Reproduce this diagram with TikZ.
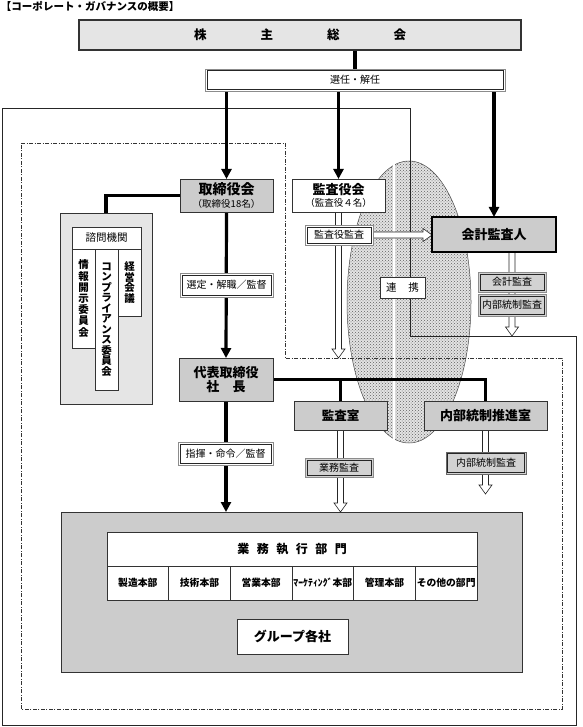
\documentclass[tikz,border=0pt]{standalone}
\usepackage{fontspec}
\setmainfont{Noto Sans CJK JP}
\usetikzlibrary{arrows.meta,patterns,calc}
\pgfdeclarelayer{lzero}\pgfdeclarelayer{lone}\pgfdeclarelayer{ltwo}
\pgfsetlayers{lzero,lone,ltwo,main}
\newcommand\fsz[1]{\fontsize{#1}{#1}\selectfont}
\newcommand\hollowV[2]{\filldraw[hollow] ($(#1)+(-3,0)$) -- ($(#2)+(-3,-9)$) -- ($(#2)+(-6.5,-9)$) -- (#2) -- ($(#2)+(6.5,-9)$) -- ($(#2)+(3,-9)$) -- ($(#1)+(3,0)$);}
\newcommand\hollowH[2]{\filldraw[hollow] ($(#1)+(0,-3)$) -- ($(#2)+(-9,-3)$) -- ($(#2)+(-9,-6.5)$) -- (#2) -- ($(#2)+(-9,6.5)$) -- ($(#2)+(-9,3)$) -- ($(#1)+(0,3)$);}
\begin{document}
\begin{tikzpicture}[x=1pt,y=-1pt,
  every node/.style={inner sep=0pt,outer sep=0pt,align=center},
  box/.style={draw=black!80,line width=0.8pt,anchor=north west},
  innerw/.store in=\innerlw, innerw=0.6pt,
  dlab/.style={draw=black!45,line width=0.7pt,fill=white,anchor=north west,font=\fsz{10},
    path picture={\draw[black!85,line width=\innerlw] ([shift={(1.8,1.8)}]path picture bounding box.north west) rectangle ([shift={(-1.8,-1.8)}]path picture bounding box.south east);}},
  glab/.style={dlab,fill=gray!35},
  thickln/.style={line width=3.2pt},
  thickar/.style={line width=3.2pt,-{Triangle[length=10pt,width=10pt]}},
  hollow/.style={draw=black!85,line width=0.6pt,fill=white},
]
\useasboundingbox (0,0) rectangle (582,727);

% ---------- nodes ----------
\node[font=\bfseries\fsz{10.5},anchor=west] (title) at (1,6.5) {【コーポレート・ガバナンスの概要】};

\node[box,fill=gray!20,line width=1.2pt,minimum width=442pt,minimum height=30pt,font=\bfseries\fsz{12.5}] (soukai) at (79,20) {株\hspace{54pt}主\hspace{54pt}総\hspace{54pt}会};

\node[dlab,minimum width=300pt,minimum height=22pt] (senin) at (205,69) {選任・解任};

\node[box,fill=gray!40,minimum width=93pt,minimum height=33pt,font=\fontsize{12}{13}\selectfont] (tori) at (180,179) {{\bfseries\fsz{14}取締役会}\\{\fsz{9.5}（取締役18名）}};

\node[box,fill=white,minimum width=93pt,minimum height=33pt,font=\fontsize{12}{12.5}\selectfont] (kansayaku) at (292,179) {{\bfseries\fsz{13}監査役会}\\{\fsz{9.5}（監査役４名）}};

\node[box,fill=gray!40,draw=black,line width=2.2pt,minimum width=124pt,minimum height=35pt,font=\bfseries\fsz{13}] (kaikei) at (432,217) {会計監査人};

\node[dlab,minimum width=68pt,minimum height=20pt] (kyk) at (305,225) {監査役監査};

\node[box,fill=white,minimum width=45pt,minimum height=21pt,font=\fsz{10.5}] (renkei) at (380,277) {連\hspace{12pt}携};

\node[glab,minimum width=68pt,minimum height=20pt] (kk1) at (478,272) {会計監査};
\node[glab,minimum width=68pt,minimum height=22pt] (kk2) at (478,294) {内部統制監査};

\node[box,fill=gray!20,minimum width=92pt,minimum height=191pt] (shimon) at (60,213) {};
\node[box,fill=white,minimum width=69pt,minimum height=22pt,font=\fsz{10.5}] (shimonh) at (72,227) {諮問機関};
\node[box,fill=white,minimum width=23pt,minimum height=99pt,font=\bfseries\fontsize{10.5}{11.2}\selectfont] (va) at (72,249) {情\\報\\開\\示\\委\\員\\会};
\node[box,fill=white,minimum width=23pt,minimum height=141pt,font=\bfseries\fontsize{10.5}{10.5}\selectfont] (vb) at (95,249) {コ\\ン\\プ\\ラ\\イ\\ア\\ン\\ス\\委\\員\\会};
\node[box,fill=white,minimum width=23pt,minimum height=67pt,font=\bfseries\fontsize{10.5}{10.8}\selectfont] (vc) at (118,249) {経\\営\\会\\議};

\node[dlab,minimum width=93pt,minimum height=24pt] (sentei) at (180,273) {選定・解職／監督};

\node[box,fill=gray!40,minimum width=94pt,minimum height=43pt,font=\bfseries\fontsize{13}{14}\selectfont] (daihyo) at (179,358) {代表取締役\\社\hspace{13.5pt}長};

\node[box,fill=gray!40,minimum width=93pt,minimum height=29pt,font=\bfseries\fsz{12.5}] (kansashitsu) at (294,401) {監査室};
\node[box,fill=gray!40,minimum width=123pt,minimum height=29pt,font=\bfseries\fsz{13}] (naibu) at (424,401) {内部統制推進室};

\node[dlab,minimum width=95pt,minimum height=23pt] (shiki) at (178,442) {指揮・命令／監督};
\node[glab,minimum width=68pt,minimum height=19pt] (gyokansa) at (305,458) {業務監査};
\node[glab,innerw=1.1pt,draw=black!60,minimum width=80pt,minimum height=22pt] (nbkansa) at (446,452) {内部統制監査};

\node[box,fill=gray!40,minimum width=461pt,minimum height=160pt] (gyomu) at (61,512) {};
\node[box,fill=white,minimum width=370pt,minimum height=34pt,font=\bfseries\fsz{12}] (gyomuh) at (107,532) {業\hspace{7.5pt}務\hspace{7.5pt}執\hspace{7.5pt}行\hspace{7.5pt}部\hspace{7.5pt}門};
\foreach \i/\t in {1/製造本部,2/技術本部,3/営業本部,4/ﾏｰｹﾃｨﾝｸﾞ本部,5/管理本部,6/その他の部門}
  \node[box,fill=white,minimum width=61.67pt,minimum height=34pt,font=\bfseries\fsz{9.8}] (d\i) at ({107+(\i-1)*61.667},566) {\t};
\node[box,fill=white,minimum width=111pt,minimum height=35pt,font=\bfseries\fsz{13}] (group) at (237,619) {グループ各社};

% ---------- ellipse ----------
\begin{pgfonlayer}{lzero}
\fill[gray!22] (409,302) ellipse [x radius=62pt,y radius=141pt];
\fill[pattern=crosshatch dots,pattern color=gray!75!black] (409,302) ellipse [x radius=62pt,y radius=141pt];
\draw[black!70,line width=0.5pt] (409,302) ellipse [x radius=62pt,y radius=141pt];
\end{pgfonlayer}

% ---------- frames ----------
\begin{pgfonlayer}{lone}
\draw[black!85,line width=0.8pt] (2,108) -- (410,108) -- (410,336) -- (576,336) -- (576,725) -- (2,725) -- cycle;
\draw[black!55,line width=0.5pt,double=white,double distance=1.3pt] (42,127) -- (394,127) -- (394,494) -- (542,494) -- (542,690) -- (42,690) -- cycle;
\draw[black!80,line width=0.7pt,dash pattern=on 4pt off 1.5pt on 1pt off 1.5pt] (21,143) -- (285,143) -- (285,358) -- (562,358) -- (562,709) -- (21,709) -- cycle;
\coordinate (oc) at (410,336);
\coordinate (dc) at (394,494);
\coordinate (dashc) at (285,358);
\end{pgfonlayer}

% ---------- connectors ----------
\begin{pgfonlayer}{ltwo}
\draw[thickln] (soukai.south -| senin.north) -- (senin.north);
\draw[thickar] (senin.south -| tori.north) -- (tori.north);
\draw[thickar] (senin.south -| kansayaku.north) -- (kansayaku.north);
\draw[thickar] (senin.south -| kaikei.north) -- (kaikei.north);
\draw[thickln] (tori.west) -| (shimon.north);
\draw[thickar] (tori.south) -- (daihyo.north);
\draw[thickar] (daihyo.south) -- (daihyo.south |- gyomu.north);
\draw[thickln] (daihyo.east) -| (naibu.north);
\draw[thickln] (daihyo.east -| kansashitsu.north) -- (kansashitsu.north);
\coordinate (hAe) at (kansayaku.south |- dashc);
\coordinate (hBe) at (kyk.east -| kaikei.west);
\coordinate (hCs) at (kaikei.south -| kk1.north);
\coordinate (hCe) at (kk1.north |- oc);
\coordinate (hDe) at (kansashitsu.south |- gyomu.north);
\coordinate (hEe) at (naibu.south |- dc);
\hollowV{kansayaku.south}{hAe}
\hollowH{kyk.east}{hBe}
\hollowV{hCs}{hCe}
\hollowV{kansashitsu.south}{hDe}
\hollowV{naibu.south}{hEe}
\end{pgfonlayer}
\end{tikzpicture}
\end{document}
